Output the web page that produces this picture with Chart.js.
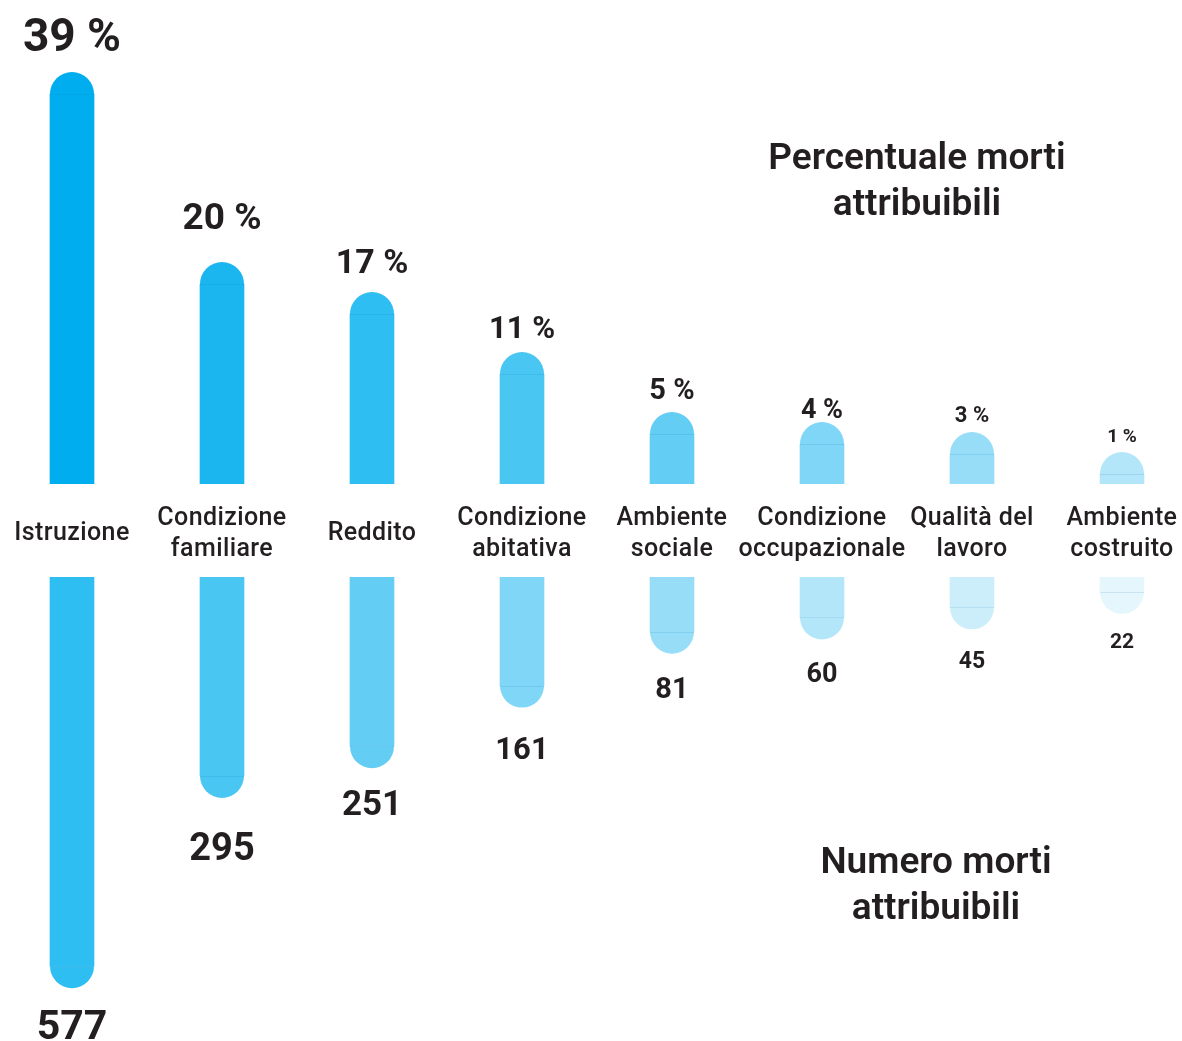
<!DOCTYPE html>
<html>
<head>
<meta charset="utf-8">
<script src="https://cdn.jsdelivr.net/npm/chart.js@4.4.1/dist/chart.umd.min.js"></script>
<style>
  body { margin: 0; background: #fff; width: 1182px; height: 1041px; overflow: hidden; position: relative;
         font-family: Roboto, sans-serif; color: #231F20; }
  #topChart { position: absolute; left: -3px; top: 0; }
  #bottomChart { position: absolute; left: -3px; top: 577px; }
  .title { position: absolute; font-weight: 600; font-size: 37px; line-height: 46px; text-align: center; width: 400px; }
</style>
</head>
<body>
<canvas id="topChart" width="1200" height="570"></canvas>
<canvas id="bottomChart" width="1200" height="464"></canvas>
<div class="title" style="left:717px; top:134px;">Percentuale morti<br>attribuibili</div>
<div class="title" style="left:736px; top:838px;">Numero morti<br>attribuibili</div>

<script>
// categories (multi-line labels)
const categories = [
  ['Istruzione'],
  ['Condizione', 'familiare'],
  ['Reddito'],
  ['Condizione', 'abitativa'],
  ['Ambiente', 'sociale'],
  ['Condizione', 'occupazionale'],
  ['Qualità del', 'lavoro'],
  ['Ambiente', 'costruito']
];
// % of attributable deaths
const percentuale = [39, 20, 17, 11, 5, 4, 3, 1];
// number of attributable deaths
const numero = [577, 295, 251, 161, 81, 60, 45, 22];

// styles
const topColors = ['#00AEEF', '#1BB6EF', '#2FBEF1', '#4AC6F2', '#64CDF4', '#80D6F6', '#97DDF7', '#B3E6F9'];
const bottomColors = ['#2FBEF1', '#4AC6F2', '#64CDF4', '#80D6F6', '#97DDF7', '#B3E6F9', '#CCEEFA', '#E5F6FD'];
const topFont = [46, 37, 34, 31, 29, 27, 22, 19];
const bottomFont = [41, 38, 35, 31, 29, 27, 23, 21];
// distance from the cap tip to the label's visual centre
const topGap = [37, 46, 31, 25, 23, 13.5, 17.5, 17];
const bottomGap = [36.5, 48.5, 34.5, 40, 34.5, 32.5, 30, 27];
const textColor = '#231F20';

// rounded cap + seam + value label drawn on each bar end
function capPlugin(colors, fonts, gaps, labels, down) {
  return {
    id: 'caps',
    afterDatasetsDraw(chart) {
      const ctx = chart.ctx;
      const meta = chart.getDatasetMeta(0);
      meta.data.forEach((bar, i) => {
        const x = bar.x, y = bar.y, r = bar.width / 2;
        ctx.save();
        ctx.fillStyle = colors[i];
        ctx.beginPath();
        if (down) ctx.arc(x, y, r, 0, Math.PI);
        else ctx.arc(x, y, r, Math.PI, 2 * Math.PI);
        ctx.closePath();
        ctx.fill();
        // faint seam between bar and cap
        ctx.strokeStyle = 'rgba(0,110,170,0.12)';
        ctx.lineWidth = 1;
        ctx.beginPath();
        ctx.moveTo(x - r, Math.round(y) + 0.5);
        ctx.lineTo(x + r, Math.round(y) + 0.5);
        ctx.stroke();
        // value label, positioned by its visual centre
        ctx.fillStyle = textColor;
        ctx.font = '700 ' + fonts[i] + 'px Roboto, sans-serif';
        ctx.textAlign = 'center';
        ctx.textBaseline = 'alphabetic';
        const c = down ? y + r + gaps[i] : y - r - gaps[i];
        ctx.fillText(labels[i], x, c + fonts[i] * 0.355);
        ctx.restore();
      });
    }
  };
}

const categoryLabels = {
  id: 'categoryLabels',
  afterDraw(chart) {
    const ctx = chart.ctx;
    const xs = chart.scales.x;
    ctx.save();
    ctx.fillStyle = textColor;
    ctx.font = '500 25px Roboto, sans-serif';
    ctx.letterSpacing = '0.4px';
    ctx.textAlign = 'center';
    ctx.textBaseline = 'alphabetic';
    const mid = chart.chartArea.bottom + 47;
    categories.forEach((lines, i) => {
      const x = xs.getPixelForValue(i);
      const y0 = mid - (lines.length - 1) * 15.5;
      lines.forEach((l, k) => ctx.fillText(l, x, y0 + k * 31 + 9));
    });
    ctx.restore();
  }
};

const labelsStr = categories.map(c => c.join(' '));

new Chart(document.getElementById('topChart'), {
  type: 'bar',
  data: {
    labels: labelsStr,
    datasets: [{
      data: percentuale,
      backgroundColor: topColors,
      barThickness: 44,
      borderWidth: 0
    }]
  },
  options: {
    responsive: false,
    animation: false,
    layout: { padding: { top: 0, bottom: 86, left: 0, right: 0 } },
    plugins: { legend: { display: false }, tooltip: { enabled: false } },
    scales: {
      x: { display: false, offset: true },
      y: { display: false, min: 0, max: 48.4 }
    }
  },
  plugins: [
    capPlugin(topColors, topFont, topGap, percentuale.map(v => v + ' %'), false),
    categoryLabels
  ]
});

new Chart(document.getElementById('bottomChart'), {
  type: 'bar',
  data: {
    labels: labelsStr,
    datasets: [{
      data: numero,
      backgroundColor: bottomColors,
      barThickness: 44,
      borderWidth: 0
    }]
  },
  options: {
    responsive: false,
    animation: false,
    layout: { padding: 0 },
    plugins: { legend: { display: false }, tooltip: { enabled: false } },
    scales: {
      x: { display: false, offset: true },
      y: { display: false, min: 0, max: 688, reverse: true }
    }
  },
  plugins: [
    capPlugin(bottomColors, bottomFont, bottomGap, numero.map(v => String(v)), true)
  ]
});
</script>
</body>
</html>
